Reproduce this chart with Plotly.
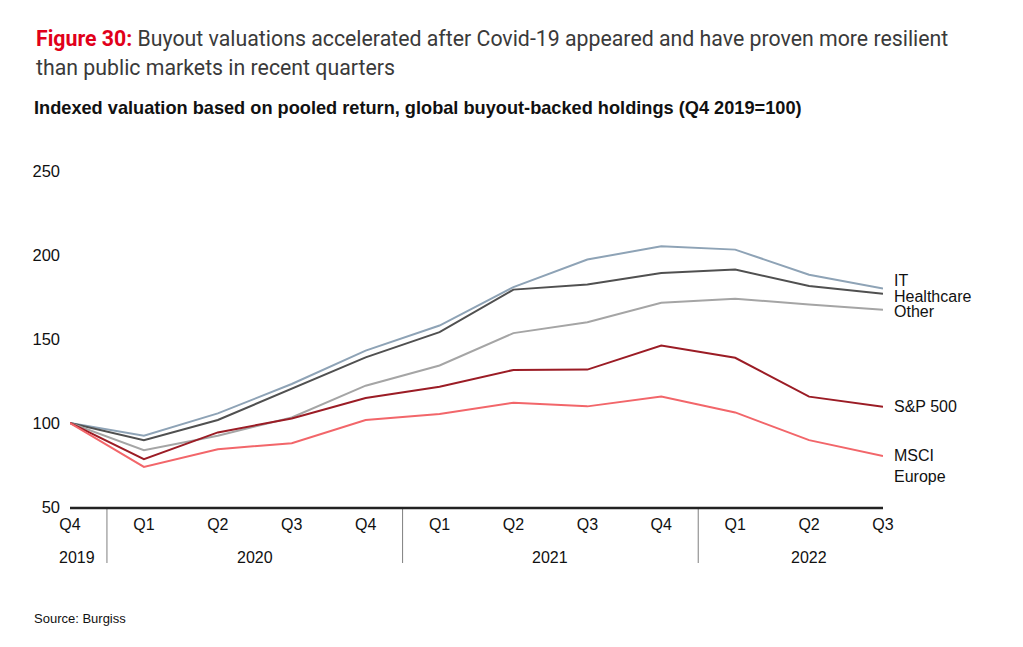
import plotly.graph_objects as go

quarters = ["Q4", "Q1", "Q2", "Q3", "Q4", "Q1", "Q2", "Q3", "Q4", "Q1", "Q2", "Q3"]
years = ["2019", "2020", "2020", "2020", "2020", "2021", "2021", "2021", "2021", "2022", "2022", "2022"]

it_vals = [100, 92.4, 105.7, 123.2, 143.1, 158.0, 180.9, 197.3, 205.2, 203.2, 188.3, 180.0]
healthcare_vals = [100, 89.8, 101.8, 120.3, 139.1, 154.1, 179.4, 182.5, 189.3, 191.3, 181.5, 177.0]
other_vals = [100, 83.8, 92.4, 103.3, 122.2, 134.2, 153.5, 160.0, 171.6, 174.0, 170.6, 167.4]
sp500_vals = [100, 78.5, 94.4, 102.7, 114.9, 121.6, 131.6, 131.8, 146.1, 138.8, 115.7, 109.7]
msci_vals = [100, 73.9, 84.4, 88.0, 101.8, 105.3, 112.1, 109.9, 115.7, 106.3, 89.8, 80.4]

series = [
    ("IT", it_vals, "#8EA3B6", "IT"),
    ("Healthcare", healthcare_vals, "#505050", "Healthcare"),
    ("Other", other_vals, "#A5A5A5", "Other"),
    ("S&P 500", sp500_vals, "#9B1C25", "S&P 500"),
    ("MSCI Europe", msci_vals, "#F2666A", "MSCI<br>Europe"),
]

x = list(range(len(quarters)))
fig = go.Figure()
for name, vals, color, label in series:
    fig.add_trace(go.Scatter(x=x, y=vals, mode="lines", name=name,
                             line=dict(color=color, width=2), showlegend=False))

FONT = "Liberation Sans, Arial, sans-serif"
# reference-pixel y -> paper y (plot spans ref y 171..507)
def py(ref_y):
    return (507 - ref_y) / 336

label_pos = {"IT": 280, "Healthcare": 296, "Other": 311, "S&P 500": 406, "MSCI Europe": 466}
for name, vals, color, label in series:
    fig.add_annotation(x=x[-1], xref="x", y=py(label_pos[name]), yref="paper",
                       text=label, showarrow=False, xanchor="left", yanchor="middle",
                       xshift=9, align="left",
                       font=dict(family=FONT, size=16, color="#111111"))

# year groups
groups = []
for i, yv in enumerate(years):
    if groups and groups[-1][0] == yv:
        groups[-1][2] = i
    else:
        groups.append([yv, i, i])
for gi, (yv, a, b) in enumerate(groups):
    cx = (a + b) / 2 if a != b else a + 0.1
    fig.add_annotation(x=cx, xref="x", y=py(557), yref="paper", text=yv,
                       showarrow=False, xanchor="center", yanchor="middle",
                       font=dict(family=FONT, size=16, color="#111111"))
    if gi > 0:
        fig.add_shape(type="line", x0=a - 0.5, x1=a - 0.5, xref="x",
                      y0=0, y1=py(563), yref="paper",
                      line=dict(color="#7f7f7f", width=1))

# axis line
fig.add_shape(type="line", x0=0, x1=x[-1], xref="x", y0=py(508), y1=py(508), yref="paper",
              line=dict(color="#222222", width=2.5))

TFONT = "Roboto, Inter, sans-serif"
fig.add_annotation(x=0, y=py(38), xref="paper", yref="paper", xshift=-36,
                   text="<b><span style='color:#E1001A'>Figure 30:</span></b> Buyout valuations accelerated after Covid-19 appeared and have proven more resilient",
                   showarrow=False, xanchor="left", yanchor="middle",
                   font=dict(family=TFONT, size=21.3, color="#3a3a3a"))
fig.add_annotation(x=0, y=py(67), xref="paper", yref="paper", xshift=-36,
                   text="than public markets in recent quarters",
                   showarrow=False, xanchor="left", yanchor="middle",
                   font=dict(family=TFONT, size=21.3, color="#3a3a3a"))
fig.add_annotation(x=0, y=py(108), xref="paper", yref="paper", xshift=-38,
                   text="<b>Indexed valuation based on pooled return, global buyout-backed holdings (Q4 2019=100)</b>",
                   showarrow=False, xanchor="left", yanchor="middle",
                   font=dict(family=FONT, size=18.2, color="#111111"))
fig.add_annotation(x=0, y=py(618), xref="paper", yref="paper", xshift=-38,
                   text="Source: Burgiss", showarrow=False, xanchor="left", yanchor="middle",
                   font=dict(family=FONT, size=13, color="#111111"))

# page body has an 8px margin, so the figure is laid out 8px in from the window corner
fig.update_layout(
    width=1007, height=631,
    margin=dict(l=62, r=132, t=163, b=132),
    plot_bgcolor="white", paper_bgcolor="white",
    font=dict(family=FONT, size=16, color="#111111"),
    xaxis=dict(range=[0, x[-1]], tickmode="array", tickvals=x, ticktext=quarters,
               showgrid=False, zeroline=False, showline=False, ticks="",
               ticklabelstandoff=6, tickfont=dict(size=16), automargin=False),
    yaxis=dict(range=[50, 250], tickvals=[50, 100, 150, 200, 250], showgrid=False,
               zeroline=False, showline=False, ticks="", ticklabelstandoff=9,
               tickfont=dict(size=16.5), automargin=False),
)

fig.write_html("out.html")
